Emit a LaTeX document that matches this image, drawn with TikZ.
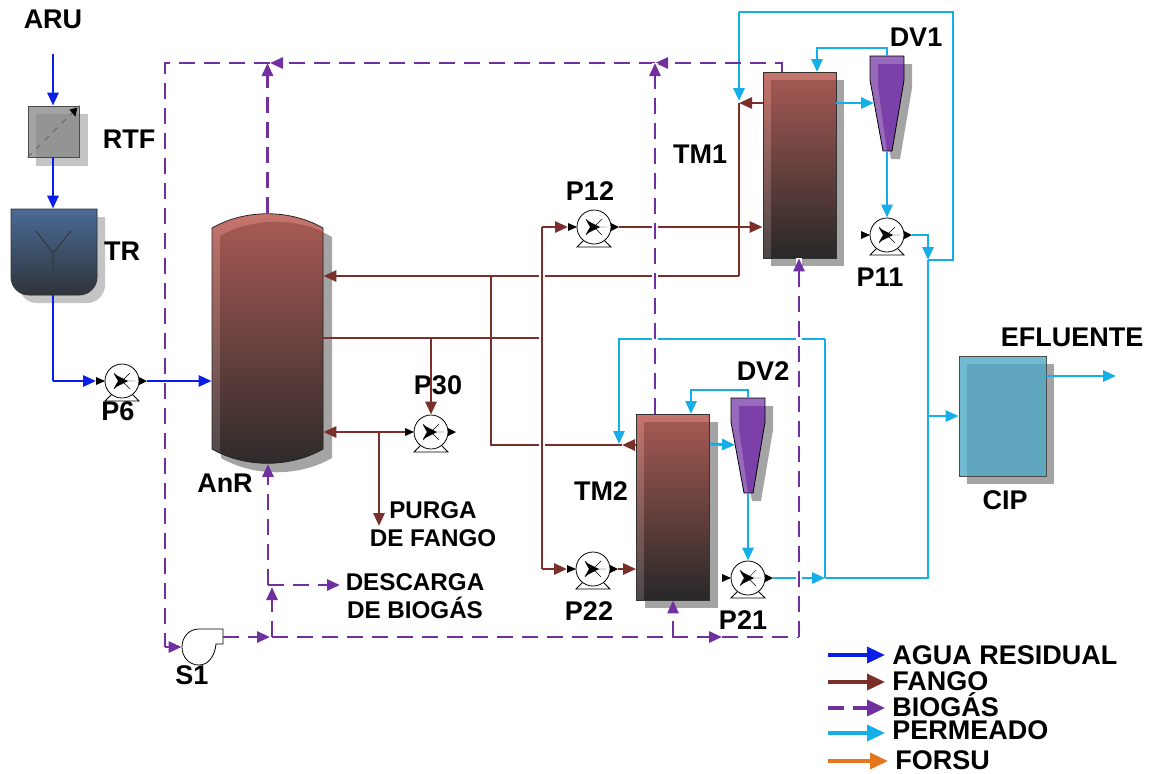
\documentclass[tikz,border=0pt]{standalone}
\usepackage{fontspec}
\setmainfont{Liberation Sans}
\usetikzlibrary{arrows.meta,shadows}

\definecolor{aguacol}{HTML}{0A1EE6}
\definecolor{fangocol}{HTML}{7A2F2A}
\definecolor{biogascol}{HTML}{7030A0}
\definecolor{permcol}{HTML}{14AEE8}
\definecolor{forsucol}{HTML}{E5761C}
\definecolor{shadecol}{HTML}{A4A4A4}
\definecolor{tanktop}{HTML}{C6746C}
\definecolor{tankin}{HTML}{A85A54}
\definecolor{tankbot}{HTML}{282828}
\definecolor{tankedge}{HTML}{4C4848}
\definecolor{cipin}{HTML}{60A6BE}
\definecolor{cipout}{HTML}{72BAD2}
\definecolor{trtop}{HTML}{557AA8}
\definecolor{trin}{HTML}{4A6A96}
\definecolor{trbot}{HTML}{2E3338}

\newcommand{\pumpsym}[3]{%
  \begin{scope}[shift={(#2,#3)}]
    \draw[thin,fill=white] (-10,13) -- (-17,20) -- (17,20) -- (10,13) -- cycle;
    \node[pumpbody] (#1) at (0,0) {};
    \fill (-17,0) -- (-26,-4) -- (-26,4) -- cycle;
    \fill (25,0) -- (17,-4) -- (17,4) -- cycle;
    \draw[very thin] (-8,-8) -- (8,8) (-8,8) -- (8,-8) (0,0) -- (13,0);
    \fill (6,0) -- (-8,-7) -- (-4,0) -- (-8,7) -- cycle;
    \coordinate (#1i) at (-26,0);
    \coordinate (#1o) at (25,0);
  \end{scope}
}
\newcommand{\cyclonesym}[3]{%
  \begin{scope}[shift={(#2,#3)}]
    \fill[shadecol,shift={(8,8)}] (-17,0) -- (17,0) -- (17,24) -- (5,95) -- (-4,95) -- (-17,24) -- cycle;
    \begin{scope}
      \clip (-17,0) -- (17,0) -- (17,24) -- (5,95) -- (-4,95) -- (-17,24) -- cycle;
      \fill[cycout] (-17,0) rectangle (17,95);
      \fill[cycin] (-9,8) -- (20,8) -- (20,95) -- (0,95) -- (-9,30) -- cycle;
    \end{scope}
    \draw[thin] (-17,0) -- (17,0) -- (17,24) -- (5,95) -- (-4,95) -- (-17,24) -- cycle;
    \node[inner sep=0,minimum width=17pt,minimum height=47.5pt] (#1) at (0,47.5) {};
  \end{scope}
}
\newcommand{\anrpath}{(212,228) .. controls (245,209) and (290,209) .. (323,228) -- (323,449) .. controls (290,468) and (245,468) .. (212,449) -- cycle}
\newcommand{\trpath}{(11,209) -- (97,209) -- (97,277) .. controls (97,287) and (89,295) .. (79,295) -- (29,295) .. controls (19,295) and (11,287) .. (11,277) -- cycle}

\begin{document}
\begin{tikzpicture}[
    x=0.5pt,y=-0.5pt,
    lbl/.style={font=\fontsize{13.5}{14}\selectfont\bfseries,inner sep=0,align=center},
    lblsmall/.style={font=\fontsize{12.1}{14}\selectfont\bfseries,inner sep=0,align=center},
    flow/.style={line width=1.4pt,-{Triangle[length=6.5pt,width=5.5pt]}},
    plain/.style={line width=1.4pt},
    agua/.style={flow,draw=aguacol},
    agualine/.style={plain,draw=aguacol},
    fango/.style={flow,draw=fangocol},
    fangoline/.style={plain,draw=fangocol},
    biogas/.style={flow,draw=biogascol,dash pattern=on 8pt off 4.5pt},
    biogasline/.style={plain,draw=biogascol,dash pattern=on 8pt off 4.5pt},
    perm/.style={flow,draw=permcol},
    permline/.style={plain,draw=permcol},
    halo/.style={preaction={draw=white,line width=3pt,solid,-}},
    pumpbody/.style={circle,draw,thin,fill=white,minimum size=17pt,inner sep=0},
    cycout/.style={fill=biogascol!72!white},
    cycin/.style={fill=biogascol!92!white},
    tankmb/.style={rectangle,draw=black!80,thin,minimum width=36.5pt,minimum height=93pt,inner sep=0,
        top color=tanktop,bottom color=tankedge,
        drop shadow={shadow xshift=4pt,shadow yshift=-4pt,fill=shadecol,opacity=1},
        path picture={\shade[top color=tankin,bottom color=tankbot]
            ([xshift=4pt,yshift=-4pt]path picture bounding box.north west) rectangle (path picture bounding box.south east);}},
    cip/.style={rectangle,draw=black!70,thin,minimum width=43.5pt,minimum height=60pt,inner sep=0,fill=cipout,
        drop shadow={shadow xshift=4pt,shadow yshift=-4pt,fill=shadecol,opacity=1},
        path picture={\fill[fill=cipin]
            ([xshift=4pt,yshift=-4pt]path picture bounding box.north west) rectangle (path picture bounding box.south east);}},
    legarrow/.style={line width=1.75pt,-{Triangle[length=9pt,width=8pt]},shorten >=3.5pt}
  ]
  \useasboundingbox (0,0) rectangle (1149,773);

  % equipos
  \fill[shadecol!65!white] (36,114) rectangle (88,166);
  \node[rectangle,draw=black!70,thin,fill=black!36,minimum size=25.5pt,inner sep=0,
      path picture={\fill[black!42] ([xshift=4pt,yshift=-4pt]path picture bounding box.north west) rectangle (path picture bounding box.south east);}] (rtf) at (53.5,131.5) {};
  \draw[thin,black!60,dashed] (rtf.south west) -- (rtf.north east);
  \fill ([xshift=-1pt,yshift=-1pt]rtf.north east) -- ++(-8,2) -- ++(6,7) -- cycle;

  \begin{scope}[shift={(8,8)}]
    \fill[shadecol!65!white] \trpath;
  \end{scope}
  \begin{scope}
    \clip \trpath;
    \shade[top color=trtop,bottom color=trbot!80!white] (11,209) rectangle (97,296);
    \begin{scope}[shift={(8,8)}]
      \shade[top color=trin,bottom color=trbot] (3,201) rectangle (95,288);
    \end{scope}
  \end{scope}
  \draw[thin,black!80] \trpath;
  \node[inner sep=0,minimum width=43pt,minimum height=43pt] (tr) at (54,252) {};
  \draw[thin,black!80] (36,231) -- (53,253) -- (71,231) (53,253) -- (53,273);

  \begin{scope}[shift={(9,9)}]
    \fill[shadecol] \anrpath;
  \end{scope}
  \begin{scope}
    \clip \anrpath;
    \shade[top color=tanktop,bottom color=tankedge] (212,213) rectangle (323,464);
    \begin{scope}[shift={(8,8)}]
      \shade[top color=tankin,bottom color=tankbot] \anrpath;
    \end{scope}
  \end{scope}
  \draw[thin,black!85] \anrpath;
  \node[inner sep=0,minimum width=55.5pt,minimum height=125pt] (anr) at (267.5,338.5) {};

  \node[tankmb] (tm1) at (799.5,165) {};
  \node[tankmb] (tm2) at (673,507) {};
  \node[cip] (cipt) at (1002.5,416) {};
  \cyclonesym{dv1}{887}{56}
  \cyclonesym{dv2}{748}{398}

  \draw[thin,fill=white] (223,629) -- (199,629) .. controls (189,629) and (182,637) .. (182,647) .. controls (182,657) and (189,665) .. (199,665) .. controls (209,665) and (215,655) .. (216,644) -- (223,644) -- cycle;
  \node[inner sep=0,minimum size=20pt] (s1) at (202,647) {};

  \pumpsym{p6}{122}{381}
  \pumpsym{p12}{594}{227}
  \pumpsym{p11}{887}{235}
  \pumpsym{p30}{431}{432}
  \pumpsym{p22}{593}{569}
  \pumpsym{p21}{748}{578}

  % etiquetas
  \node[lbl] (aru) at (53,19) {ARU};
  \node[lbl] (rtfl) at (129,139) {RTF};
  \node[lbl] (trl) at (122,251) {TR};
  \node[lbl] (p6l) at (118,411) {P6};
  \node[lbl] (anrl) at (225,483) {AnR};
  \node[lbl] (s1l) at (192,675) {S1};
  \node[lbl] (p30l) at (438,385) {P30};
  \node[lblsmall] (purga) at (433,524) {PURGA\\DE FANGO};
  \node[lblsmall] (desc) at (415,596) {DESCARGA\\DE BIOGÁS};
  \node[lbl] (p12l) at (590,191) {P12};
  \node[lbl] (tm1l) at (700,154) {TM1};
  \node[lbl] (dv1l) at (916,37) {DV1};
  \node[lbl] (p11l) at (880,277) {P11};
  \node[lbl] (dv2l) at (763,371) {DV2};
  \node[lbl] (tm2l) at (601,491) {TM2};
  \node[lbl] (p22l) at (589,611) {P22};
  \node[lbl] (p21l) at (743,620) {P21};
  \node[lbl] (efl) at (1072,337) {EFLUENTE};
  \node[lbl] (cipl) at (1005,500) {CIP};

  % puntos de union
  \coordinate (aruin) at (53,54);
  \coordinate (p6t) at (53,381);
  \coordinate (bartop) at (782,63);
  \coordinate (barleft) at (165,63);
  \coordinate (barmid) at (270,63);
  \coordinate (barm2) at (655,63);
  \coordinate (s1in) at (165,647);
  \coordinate (s1out) at (223,637);
  \coordinate (s1j) at (270,637);
  \coordinate (bar1) at (272,637);
  \coordinate (bar2) at (272,587);
  \coordinate (bar3) at (268,585);
  \coordinate (descend) at (340,585);
  \coordinate (tm2gas) at (673,637);
  \coordinate (tm2up) at (655,414);
  \coordinate (gasin) at (722,637);
  \coordinate (gasend) at (799,637);
  \coordinate (fangoup) at (739,276);
  \coordinate (fangob) at (739,103);
  \coordinate (retorno) at (491,276);
  \coordinate (retorno2) at (491,445);
  \coordinate (retorno3) at (622,445);
  \coordinate (fangov) at (542,338);
  \coordinate (purgaj) at (379,432);
  \coordinate (purgaend) at (379,526);
  \coordinate (p30j) at (431,338);
  \coordinate (permtop) at (739,12);
  \coordinate (permright) at (953,12);
  \coordinate (permj) at (953,260);
  \coordinate (perme) at (739,101);
  \coordinate (p11j) at (928,260);
  \coordinate (dv1t) at (817,48);
  \coordinate (dv1e) at (817,72);
  \coordinate (dv1in) at (874,103);
  \coordinate (dv2t) at (691,390);
  \coordinate (dv2e) at (691,414);
  \coordinate (dv2in) at (735,445);
  \coordinate (perm2) at (825,339);
  \coordinate (perm2l) at (619,339);
  \coordinate (perm2e) at (619,444);
  \coordinate (permb) at (825,578);
  \coordinate (permc) at (928,578);
  \coordinate (cipj) at (928,416);
  \coordinate (efend) at (1116,376);

  % agua residual
  \draw[agua] (aruin) -- (rtf.north -| aruin);
  \draw[agua] (rtf.south -| aruin) -- (tr.north -| aruin);
  \draw[agualine] (tr.south -| aruin) -- (p6t);
  \draw[agua] (p6t) -- (p6i);
  \draw[agua] (p6o) -- (anr.west |- p6o);

  % fango
  \draw[fango] (fangoup) -- (anr.east |- fangoup);
  \draw[fangoline] (fangob) -- (fangoup);
  \draw[fango] (tm1.west |- fangob) -- (fangob);
  \draw[fangoline] (anr.east |- fangov) -- (fangov);
  \draw[fangoline] (retorno) -- (retorno2) -- (retorno3);
  \draw[fango] (tm2.west |- retorno2) -- (retorno3);
  \draw[fangoline,halo] (p12i -| fangov) -- (fangov |- p22i);
  \draw[fango] (p12i -| fangov) -- (p12i);
  \draw[fango] (p12o) -- (tm1.west |- p12o);
  \draw[fango] (p22i -| fangov) -- (p22i);
  \draw[fango] (p22o) -- (tm2.west |- p22o);
  \draw[fango] (p30j) -- (p30.north);
  \draw[fango] (purgaj) -- (anr.east |- purgaj);
  \draw[fangoline] (purgaj) -- (p30i);
  \draw[fango] (purgaj) -- (purgaend);

  % permeado
  \draw[perm] (tm1.east |- fangob) -- (dv1in);
  \draw[perm] (dv1.north) |- (dv1t) -- (dv1e);
  \draw[perm] (dv1.south) -- (p11.north);
  \draw[perm] (p11o) -| (p11j);
  \draw[permline] (p11j) -- (permj) -- (permright) -- (permtop);
  \draw[perm] (permtop) -- (perme);
  \draw[perm] (tm2.east |- perm2e) -- (dv2in);
  \draw[perm] (dv2.north) |- (dv2t) -- (dv2e);
  \draw[perm] (dv2.south) -- (p21.north);
  \draw[perm] (p21o) -- (permb);
  \draw[permline] (permb) -- (permc) -- (p11j);
  \draw[permline] (permb) -- (perm2);
  \draw[perm] (perm2) -- (perm2l) -- (perm2e);
  \draw[perm] (cipj) -- (cipt.west |- cipj);
  \draw[perm] (cipt.east |- efend) -- (efend);

  % biogas
  \draw[biogas] (anr.north) -- (anr.north |- barmid);
  \draw[biogas] (tm1.north -| bartop) -- (bartop) -- (barm2);
  \draw[biogas] (barm2) -- (barmid);
  \draw[biogasline] (barmid) -- (barleft) -- (s1in);
  \draw[biogas] (s1in) -- (s1.west);
  \draw[biogas] (s1out) -- (s1j);
  \draw[biogas] (bar1) -- (bar2);
  \draw[biogas] (bar3) -- (anr.south -| bar3);
  \draw[biogas] (bar3) -- (descend);
  \draw[biogas] (bar1) -- (gasin);
  \draw[biogasline] (gasin) -- (gasend);
  \draw[biogas] (tm2gas) -- (tm2.south -| tm2gas);
  \draw[biogas,halo] (gasend) -- (tm1.south -| gasend);
  \draw[biogas,halo] (tm2up) -- (barm2);

  % leyenda
  \node[lbl,anchor=west] (lagua) at (892,655) {AGUA RESIDUAL};
  \node[lbl,anchor=west] (lfango) at (892,681) {FANGO};
  \node[lbl,anchor=west] (lbio) at (892,705) {BIOGÁS};
  \node[lbl,anchor=west] (lperm) at (892,730) {PERMEADO};
  \node[lbl,anchor=west] (lforsu) at (895,760) {FORSU};
  \coordinate (lega) at (828,655);
  \coordinate (legf) at (828,682);
  \coordinate (legb) at (828,708);
  \coordinate (legp) at (828,733);
  \coordinate (legs) at (828,761);
  \draw[legarrow,draw=aguacol] (lega) -- (lagua.west);
  \draw[legarrow,draw=fangocol] (legf) -- (lfango.west |- legf);
  \draw[legarrow,draw=biogascol,dash pattern=on 8pt off 4.5pt] (legb) -- (lbio.west |- legb);
  \draw[legarrow,draw=permcol] (legp) -- (lperm.west |- legp);
  \draw[legarrow,draw=forsucol] (legs) -- (lforsu.west |- legs);
\end{tikzpicture}
\end{document}
